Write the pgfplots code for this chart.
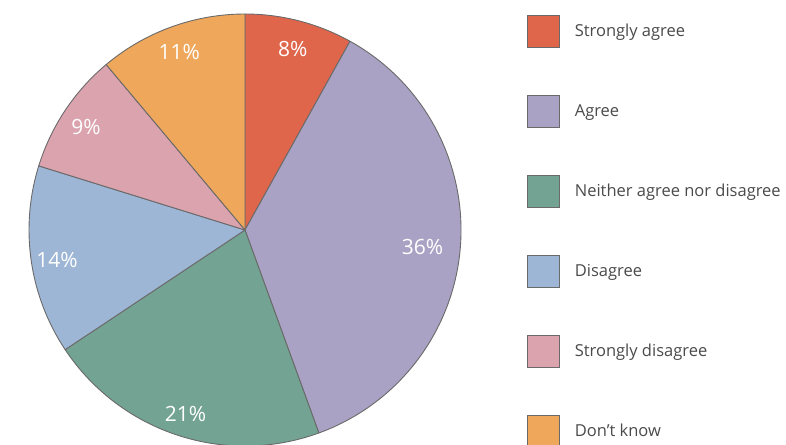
\documentclass[border=0pt]{standalone}
\usepackage{pgfplots}
\pgfplotsset{compat=1.18}
\usepackage{fontspec}
\setmainfont{Open Sans}
\definecolor{cSA}{HTML}{DF654B}
\definecolor{cA}{HTML}{A9A2C4}
\definecolor{cN}{HTML}{72A393}
\definecolor{cD}{HTML}{9EB6D6}
\definecolor{cSD}{HTML}{DBA3AE}
\definecolor{cDK}{HTML}{EEA75B}
\definecolor{edge}{HTML}{6A6A6A}
\definecolor{txt}{HTML}{4A4A4A}
% #1 cumulative percent before slice, #2 percent, #3 colour
\newcommand{\slice}[3]{%
  \fill[#3,draw=edge,line width=0.9pt,line join=round]
    (axis cs:245,230) -- ++({90-(#1)*3.6363636}:216pt)
    arc[start angle={90-(#1)*3.6363636}, end angle={90-(#1+#2)*3.6363636}, radius=216pt] -- cycle;
}
\newcommand{\slicelabel}[3]{%
  \path (axis cs:245,230) ++({90-(#1+#2/2)*3.6363636}:#3pt)
    node[text=white,font=\fontsize{21}{24}\selectfont,inner sep=0pt,yshift=-2.5pt] {#2\%};
}
\begin{document}
\begin{tikzpicture}
\clip (0,0) rectangle (786pt,444pt);
\begin{axis}[
  at={(0,0)}, anchor=south west,
  width=786pt, height=444pt, scale only axis,
  xmin=0, xmax=786, ymin=0, ymax=444, y dir=reverse,
  hide axis, clip=false,
  legend cell align=left,
  legend style={at={(axis cs:527,14.5)}, anchor=north west, draw=none, fill=none,
    inner sep=0pt, outer sep=0pt, row sep=47.2pt, column sep=15pt,
    nodes={inner sep=0pt, text=txt, font=\fontsize{16.5}{19}\selectfont}},
  legend image code/.code={\draw[#1,draw=edge,line width=0.8pt] (0pt,-16pt) rectangle (32pt,16pt);},
]
\addlegendimage{fill=cSA}\addlegendentry{Strongly agree}
\addlegendimage{fill=cA}\addlegendentry{Agree}
\addlegendimage{fill=cN}\addlegendentry{Neither agree nor disagree}
\addlegendimage{fill=cD}\addlegendentry{Disagree}
\addlegendimage{fill=cSD}\addlegendentry{Strongly disagree}
\addlegendimage{fill=cDK}\addlegendentry{Don't know}
\slice{0}{8}{cSA}
\slice{8}{36}{cA}
\slice{44}{21}{cN}
\slice{65}{14}{cD}
\slice{79}{9}{cSD}
\slice{88}{11}{cDK}
\slicelabel{0}{8}{190}
\slicelabel{8}{36}{178}
\slicelabel{44}{21}{191}
\slicelabel{65}{14}{190}
\slicelabel{79}{9}{191}
\slicelabel{88}{11}{192}
\end{axis}
\end{tikzpicture}
\end{document}
